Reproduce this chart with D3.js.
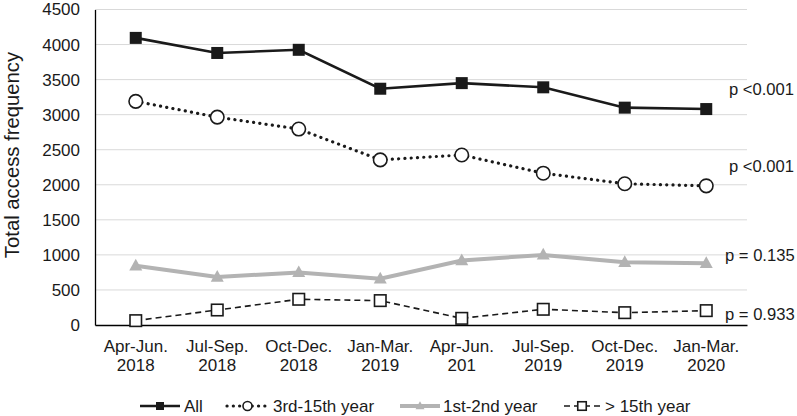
<!DOCTYPE html>
<html><head><meta charset="utf-8">
<script src="https://cdn.jsdelivr.net/npm/d3@7"></script>
<style>body{margin:0;background:#fff;}svg{display:block;font-family:"Liberation Sans",Arial,sans-serif;}</style>
</head><body>
<svg id="c" width="797" height="416"></svg>
<script>
const categories = [["Apr-Jun.","2018"],["Jul-Sep.","2018"],["Oct-Dec.","2018"],["Jan-Mar.","2019"],["Apr-Jun.","201"],["Jul-Sep.","2019"],["Oct-Dec.","2019"],["Jan-Mar.","2020"]];
const allValues = [4095, 3880, 3925, 3370, 3450, 3390, 3100, 3080];
const midValues = [3190, 2965, 2795, 2355, 2425, 2165, 2015, 1985];
const earlyValues = [845, 685, 750, 660, 920, 1000, 895, 880];
const lateValues = [62, 214, 367, 348, 95, 224, 176, 205];
const yTicks = [0,500,1000,1500,2000,2500,3000,3500,4000,4500];
const seriesNames = ["All","3rd-15th year","1st-2nd year","> 15th year"];
const pLabels = ["p <0.001","p <0.001","p = 0.135","p = 0.933"];

const svg = d3.select("#c");
const L = 95, R = 747, T = 9.5, B = 325;
const x = d3.scaleBand().domain(d3.range(categories.length)).range([L, R]);
const y = d3.scaleLinear().domain([0, 4500]).range([B, T]);
const cx = i => x(i) + x.bandwidth()/2;

// gridlines
svg.append("g").selectAll("line").data(yTicks.filter(d=>d>0)).join("line")
  .attr("x1", L).attr("x2", R).attr("y1", d=>y(d)).attr("y2", d=>y(d))
  .attr("stroke", "#d9d9d9").attr("stroke-width", 1);

// y axis
const ya = svg.append("g").attr("transform", `translate(${L},0)`)
  .call(d3.axisLeft(y).tickValues(yTicks).tickSize(0).tickPadding(15).tickFormat(d3.format("d")));
ya.select(".domain").attr("stroke", "#000").attr("stroke-width", 1.3);
ya.selectAll("text").attr("font-size", 17).attr("fill", "#1a1a1a").attr("font-family", "Liberation Sans, Arial, sans-serif");

// x axis
const xa = svg.append("g").attr("transform", `translate(0,${B})`)
  .call(d3.axisBottom(x).tickSize(0).tickFormat(""));
xa.select(".domain").attr("stroke", "#000").attr("stroke-width", 1.3);
xa.selectAll(".tick").each(function(d){
  const t = d3.select(this).append("text").attr("fill","#1a1a1a").attr("font-size",17)
    .attr("text-anchor","middle").attr("font-family","Liberation Sans, Arial, sans-serif");
  t.append("tspan").attr("x",0).attr("y",27).text(categories[d][0]);
  t.append("tspan").attr("x",0).attr("y",45.5).text(categories[d][1]);
});

// y label
svg.append("text").attr("transform", `translate(19,155) rotate(-90)`)
  .attr("text-anchor","middle").attr("font-size",20.3).attr("fill","#1a1a1a").text("Total access frequency");

const line = d3.line().x((d,i)=>cx(i)).y(d=>y(d));
const series = [
  {vals: allValues, stroke:"#1a1a1a", sw:2.6, dash:null, cap:"butt", marker:"sqFill"},
  {vals: midValues, stroke:"#1a1a1a", sw:3.2, dash:"0.1 6.2", cap:"round", marker:"circ"},
  {vals: earlyValues, stroke:"#b3b3b3", sw:4, dash:null, cap:"butt", marker:"tri"},
  {vals: lateValues, stroke:"#1a1a1a", sw:1.6, dash:"6 4", cap:"butt", marker:"sqOpen"}
];

function drawMarker(g, type, px, py, s){
  if(type==="sqFill"){
    g.append("rect").attr("x",px-s/2).attr("y",py-s/2).attr("width",s).attr("height",s).attr("fill","#1a1a1a");
  } else if(type==="sqOpen"){
    g.append("rect").attr("x",px-s/2).attr("y",py-s/2).attr("width",s).attr("height",s)
      .attr("fill","#fff").attr("stroke","#1a1a1a").attr("stroke-width",1.6);
  } else if(type==="circ"){
    g.append("circle").attr("cx",px).attr("cy",py).attr("r",s/2)
      .attr("fill","#fff").attr("stroke","#1a1a1a").attr("stroke-width",1.6);
  } else if(type==="tri"){
    const h = s*0.9;
    g.append("path").attr("d",`M${px},${py-h*0.6}L${px+s/2},${py+h*0.4}L${px-s/2},${py+h*0.4}Z`).attr("fill","#b3b3b3");
  }
}

const sizes = {sqFill:12, sqOpen:11.5, circ:13.5, tri:13};
series.forEach(s=>{
  svg.append("path").datum(s.vals).attr("d", line).attr("fill","none")
    .attr("stroke", s.stroke).attr("stroke-width", s.sw).attr("stroke-linecap", s.cap)
    .attr("stroke-dasharray", s.dash);
  const g = svg.append("g");
  s.vals.forEach((v,i)=>drawMarker(g, s.marker, cx(i), y(v), sizes[s.marker]));
});

// p labels
const pY = [95, 172, 261, 320];
const pX = [729, 729, 725, 725];
pLabels.forEach((t,i)=>{
  svg.append("text").attr("x",pX[i]).attr("y",pY[i]).attr("font-size",16.6).attr("fill","#1a1a1a").text(t);
});

// legend
const legY = 406;
const leg = [
  {x1:140, x2:180, tx:184},
  {x1:227, x2:268, tx:273},
  {x1:400, x2:440, tx:443},
  {x1:564, x2:600, tx:605}
];
const legSizes = {sqFill:8, sqOpen:8.5, circ:9, tri:9};
series.forEach((s,i)=>{
  const l = leg[i];
  svg.append("line").attr("x1",l.x1).attr("x2",l.x2).attr("y1",legY).attr("y2",legY)
    .attr("stroke",s.stroke).attr("stroke-width",s.sw).attr("stroke-linecap",s.cap)
    .attr("stroke-dasharray", s.dash);
  drawMarker(svg, s.marker, (l.x1+l.x2)/2, legY, legSizes[s.marker]);
  svg.append("text").attr("x",l.tx).attr("y",legY+6).attr("font-size",17).attr("fill","#1a1a1a").text(seriesNames[i]);
});
</script>
</body></html>
